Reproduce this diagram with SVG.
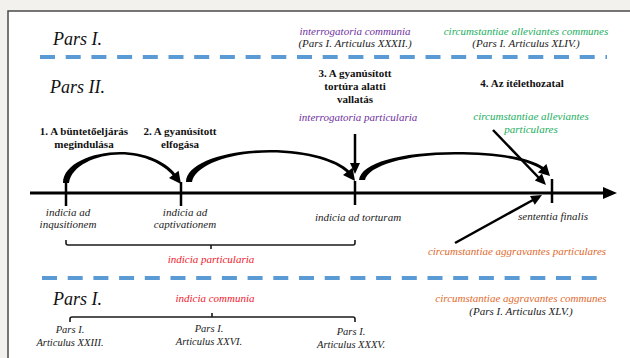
<svg xmlns="http://www.w3.org/2000/svg" width="630" height="358" viewBox="0 0 630 358" font-family="'Liberation Serif', 'DejaVu Serif', serif">
  <defs>
    <style>
      .it { font-style: italic; font-size: 11px; text-anchor: middle; fill: #1a1a1a; }
      .sm { font-style: italic; font-size: 10.5px; text-anchor: middle; fill: #1a1a1a; }
      .step { font-weight: bold; font-size: 11px; text-anchor: middle; fill: #111; }
      .pars { font-style: italic; font-size: 18px; fill: #111; }
      .purple { fill: #7030a0; }
      .green { fill: #1aae60; }
      .red { fill: #f0202e; }
      .orange { fill: #e2692c; }
      .dash { stroke: #5b9bd5; stroke-width: 4; stroke-dasharray: 15 10.7; fill: none; }
      .axis { stroke: #000; stroke-width: 3; fill: none; }
      .tick { stroke: #000; stroke-width: 2.5; fill: none; }
      .shaft { stroke: #000; stroke-width: 2.5; fill: none; }
      .bracket { stroke: #1a1a1a; stroke-width: 1.6; fill: none; }
    </style>
  </defs>

  <!-- page background and frame -->
  <rect x="0" y="0" width="630" height="358" fill="#f2f1ed"/>
  <rect x="8" y="11" width="640" height="360" fill="#ffffff" stroke="#4a4a4a" stroke-width="1.5"/>

  <!-- section separators -->
  <g id="separators">
    <line class="dash" x1="40" y1="57" x2="607" y2="57"/>
    <line class="dash" x1="42" y1="278" x2="597" y2="278"/>
  </g>

  <!-- section titles -->
  <g id="titles">
    <text class="pars" x="53" y="45">Pars I.</text>
    <text class="pars" x="50" y="93">Pars II.</text>
    <text class="pars" x="53" y="305">Pars I.</text>
  </g>

  <!-- top: common provisions -->
  <g id="interrogatoria-communia">
    <text class="it purple" x="355" y="35">interrogatoria communia</text>
    <text class="it" x="355" y="47">(Pars I. Articulus XXXII.)</text>
  </g>
  <g id="alleviantes-communes">
    <text class="it green" x="526" y="35">circumstantiae alleviantes communes</text>
    <text class="it" x="526" y="47">(Pars I. Articulus XLIV.)</text>
  </g>

  <!-- procedure stages -->
  <g id="stage-1">
    <text class="step" x="84" y="135">1. A büntetőeljárás</text>
    <text class="step" x="84" y="148">megindulása</text>
  </g>
  <g id="stage-2">
    <text class="step" x="180" y="135">2. A gyanúsított</text>
    <text class="step" x="180" y="148">elfogása</text>
  </g>
  <g id="stage-3">
    <text class="step" x="355" y="77">3. A gyanúsított</text>
    <text class="step" x="355" y="90">tortúra alatti</text>
    <text class="step" x="355" y="103">vallatás</text>
  </g>
  <g id="stage-4">
    <text class="step" x="522" y="87">4. Az ítélethozatal</text>
  </g>

  <g id="interrogatoria-particularia">
    <text class="it purple" x="358" y="121">interrogatoria particularia</text>
  </g>
  <g id="alleviantes-particulares">
    <text class="it green" x="531" y="120">circumstantiae alleviantes</text>
    <text class="it green" x="531" y="133">particulares</text>
  </g>

  <!-- timeline labels -->
  <g id="indicia-inquisitionem">
    <text class="it" x="68" y="216">indicia ad</text>
    <text class="it" x="68" y="228">inqusitionem</text>
  </g>
  <g id="indicia-captivationem">
    <text class="it" x="185" y="216">indicia ad</text>
    <text class="it" x="185" y="228">captivationem</text>
  </g>
  <g id="indicia-torturam">
    <text class="it" x="358" y="221">indicia ad torturam</text>
  </g>
  <g id="sententia-finalis">
    <text class="it" x="553" y="220">sententia finalis</text>
  </g>

  <g id="indicia-particularia">
    <text class="it red" x="211" y="263">indicia particularia</text>
  </g>
  <g id="aggravantes-particulares">
    <text class="it orange" x="517" y="255">circumstantiae aggravantes particulares</text>
  </g>

  <!-- bottom: common provisions -->
  <g id="indicia-communia">
    <text class="it red" x="215" y="302">indicia communia</text>
  </g>
  <g id="aggravantes-communes">
    <text class="it orange" x="521" y="302">circumstantiae aggravantes communes</text>
    <text class="it" x="521" y="315">(Pars I. Articulus XLV.)</text>
  </g>
  <g id="articulus-xxiii">
    <text class="sm" x="70" y="333">Pars I.</text>
    <text class="sm" x="70" y="346">Articulus XXIII.</text>
  </g>
  <g id="articulus-xxvi">
    <text class="sm" x="209" y="332">Pars I.</text>
    <text class="sm" x="209" y="345">Articulus XXVI.</text>
  </g>
  <g id="articulus-xxxv">
    <text class="sm" x="351" y="335">Pars I.</text>
    <text class="sm" x="351" y="348">Articulus XXXV.</text>
  </g>

  <!-- connectors -->
  <g id="connectors">
    <!-- time axis -->
    <line class="axis" x1="30" y1="193" x2="605" y2="193"/>
    <polygon points="603,187 617,193 603,199" fill="#000"/>

    <!-- stage ticks -->
    <line class="tick" x1="66" y1="182" x2="66" y2="206"/>
    <line class="tick" x1="181" y1="182" x2="181" y2="206"/>
    <line class="tick" x1="355" y1="181" x2="355" y2="205"/>
    <line class="tick" x1="552" y1="179" x2="552" y2="203"/>

    <!-- curved stage transitions (tapered) -->
    <path fill="#000" d="M63,183 C63,164 92,152 120,152 C146,152 166,162 175,173.5 L178.6,170.8 L181,184 L169,178 L172.6,175.3 C164,165 145,154.5 120,154.5 C96,154.5 71,166 69,183 Z"/>
    <path fill="#000" d="M186,182 C186,163 225,150 270,150 C310,150 338,160 349,170.5 L352.6,167.8 L355,181 L343,175 L346.6,172.3 C336,162 308,152.5 270,152.5 C230,152.5 195,165 192,182 Z"/>
    <path fill="#000" d="M359,180 C361,163 400,152 455,152 C500,152 530,158 543.3,167.1 L546.4,164 L550,176 L538,172.4 L541.1,169.3 C528,160 498,154.5 455,154.5 C405,154.5 368,166 365,180 Z"/>

    <!-- interrogatoria particularia -> torture stage -->
    <line class="shaft" x1="355" y1="134" x2="355" y2="164"/>
    <polygon points="350,163 360,163 355,174" fill="#000"/>

    <!-- alleviating circumstances -> sentence -->
    <line class="shaft" x1="493" y1="130" x2="539" y2="178"/>
    <polygon points="546,185 542,173.6 534.8,180.6" fill="#000"/>

    <!-- aggravating circumstances -> sentence -->
    <line class="shaft" x1="455" y1="243" x2="533" y2="200"/>
    <polygon points="542,195 534.8,204.7 530,195.9" fill="#000"/>

    <!-- brackets -->
    <path class="bracket" d="M66,240 L66,243 Q66,245 68,245 L353,245 Q355,245 355,243 L355,240 M211,245 L211,249"/>
    <path class="bracket" d="M70,322 L70,319 Q70,317 72,317 L353,317 Q355,317 355,319 L355,322 M212,317 L212,313"/>
  </g>
</svg>
